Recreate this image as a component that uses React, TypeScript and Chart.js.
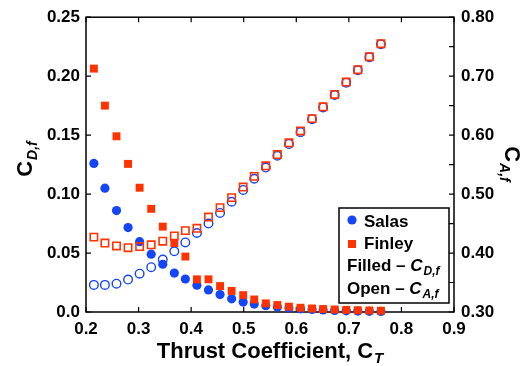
import React, { useEffect, useRef } from "react";
import { Chart, registerables } from "chart.js";

Chart.register(...registerables);

// Thrust coefficient (shared by both datasets)
const thrustCoef = [0.215, 0.236, 0.258, 0.280, 0.302, 0.324, 0.346, 0.368, 0.389, 0.411, 0.433, 0.455, 0.477, 0.499, 0.520, 0.542, 0.564, 0.586, 0.608, 0.630, 0.651, 0.673, 0.695, 0.717, 0.739, 0.761];

// Salas
const salasCD = [0.126, 0.105, 0.086, 0.0716, 0.0596, 0.049, 0.0405, 0.033, 0.028, 0.0227, 0.0187, 0.0148, 0.0112, 0.0084, 0.0067, 0.0053, 0.0042, 0.0034, 0.0027, 0.0021, 0.0017, 0.0013, 0.001, 0.0008, 0.0006, 0.0005];
const salasCA = [0.346, 0.346, 0.348, 0.355, 0.365, 0.376, 0.389, 0.403, 0.418, 0.434, 0.45, 0.468, 0.487, 0.507, 0.526, 0.545, 0.565, 0.585, 0.605, 0.627, 0.647, 0.668, 0.689, 0.71, 0.732, 0.754];

// Finley
const finleyCD = [0.2064, 0.175, 0.149, 0.1256, 0.1054, 0.0875, 0.0724, 0.0585, 0.047, 0.0277, 0.0277, 0.022, 0.0179, 0.0143, 0.0106, 0.0073, 0.0059, 0.0045, 0.0036, 0.003, 0.0025, 0.0021, 0.0018, 0.0015, 0.0013, 0.0011];
const finleyCA = [0.427, 0.417, 0.412, 0.409, 0.411, 0.414, 0.42, 0.429, 0.438, 0.442, 0.461, 0.477, 0.494, 0.512, 0.53, 0.548, 0.567, 0.587, 0.607, 0.628, 0.648, 0.669, 0.69, 0.711, 0.733, 0.755];

const BLUE = "#1446f7";
const RED = "#ff3300";
const FONT = '"Liberation Sans", Arial, sans-serif';

const pts = (ys: number[]) => thrustCoef.map((x, i) => ({ x, y: ys[i] }));

function drawSub(ctx: CanvasRenderingContext2D, x: number, y: number, main: string, mainFont: string, sub: string, subFont: string, off: number) {
  ctx.font = mainFont;
  ctx.fillText(main, x, y);
  const w1 = ctx.measureText(main).width;
  ctx.font = subFont;
  ctx.fillText(sub, x + w1 + 1, y + off);
  return w1 + 1 + ctx.measureText(sub).width;
}
function measureSub(ctx: CanvasRenderingContext2D, main: string, mainFont: string, sub: string, subFont: string) {
  ctx.font = mainFont;
  const w1 = ctx.measureText(main).width;
  ctx.font = subFont;
  return w1 + 1 + ctx.measureText(sub).width;
}

const framePlugin = {
  id: "frame",
  beforeDatasetsDraw(chart: any) {
    const { ctx, chartArea } = chart;
    const { left, right, top, bottom } = chartArea;
    const sx = chart.scales.x, sy = chart.scales.y, sy2 = chart.scales.y2;
    ctx.save();
    ctx.strokeStyle = "#000";
    ctx.lineWidth = 1.5;
    ctx.strokeRect(left, top, right - left, bottom - top);
    ctx.lineWidth = 1.2;
    ctx.beginPath();
    const L = 5;
    sx.ticks.forEach((t: any) => {
      const p = sx.getPixelForValue(t.value);
      ctx.moveTo(p, bottom); ctx.lineTo(p, bottom - L);
      ctx.moveTo(p, top); ctx.lineTo(p, top + L);
    });
    sy.ticks.forEach((t: any) => {
      const p = sy.getPixelForValue(t.value);
      ctx.moveTo(left, p); ctx.lineTo(left + L, p);
    });
    sy2.ticks.forEach((t: any) => {
      const p = sy2.getPixelForValue(t.value);
      ctx.moveTo(right, p); ctx.lineTo(right - L, p);
    });
    ctx.stroke();
    ctx.restore();
  },
  afterDraw(chart: any) {
    const { ctx, chartArea } = chart;
    const { left, right, top, bottom } = chartArea;
    ctx.save();
    ctx.fillStyle = "#000";
    ctx.textBaseline = "alphabetic";
    ctx.textAlign = "left";
    const titleFont = `bold 22px ${FONT}`;
    const subFontI = `italic bold 14px ${FONT}`;
    // X title
    const xMain = "Thrust Coefficient, C";
    const xw = measureSub(ctx, xMain, titleFont, "T", `italic bold 15px ${FONT}`);
    drawSub(ctx, (left + right) / 2 - xw / 2, 358, xMain, titleFont, "T", `italic bold 15px ${FONT}`, 5);
    // Left title
    const lw = measureSub(ctx, "C", titleFont, "D,f", subFontI);
    ctx.save();
    ctx.translate(32, 159);
    ctx.rotate(-Math.PI / 2);
    drawSub(ctx, -lw / 2, 0, "C", titleFont, "D,f", subFontI, 5);
    ctx.restore();
    // Right title
    const rw = measureSub(ctx, "C", titleFont, "A,f", subFontI);
    ctx.save();
    ctx.translate(505, 164);
    ctx.rotate(Math.PI / 2);
    drawSub(ctx, -rw / 2, 0, "C", titleFont, "A,f", subFontI, 5);
    ctx.restore();

    // Legend
    const bx = 339, by = 208, bw = 110, bh = 95;
    ctx.fillStyle = "#fff";
    ctx.fillRect(bx, by, bw, bh);
    ctx.strokeStyle = "#000";
    ctx.lineWidth = 1.5;
    ctx.strokeRect(bx, by, bw, bh);
    ctx.fillStyle = BLUE;
    ctx.beginPath();
    ctx.arc(352, 220, 4.6, 0, Math.PI * 2);
    ctx.fill();
    ctx.fillStyle = RED;
    ctx.fillRect(352 - 4, 244 - 4, 8, 8);
    ctx.fillStyle = "#000";
    const lf = `bold 17px ${FONT}`;
    ctx.font = lf;
    ctx.fillText("Salas", 364, 226.5);
    ctx.fillText("Finley", 364, 248.5);
    ctx.fillText("Filled \u2013 ", 347, 271);
    let w = ctx.measureText("Filled \u2013 ").width;
    drawSub(ctx, 347 + w, 271, "C", `italic bold 17px ${FONT}`, "D,f", `italic bold 12px ${FONT}`, 4);
    ctx.font = lf;
    ctx.fillText("Open \u2013 ", 347, 293.5);
    w = ctx.measureText("Open \u2013 ").width;
    drawSub(ctx, 347 + w, 293.5, "C", `italic bold 17px ${FONT}`, "A,f", `italic bold 12px ${FONT}`, 4);
    ctx.restore();
  },
};

export default function App() {
  const ref = useRef<HTMLCanvasElement>(null);
  useEffect(() => {
    if (!ref.current) return;
    const tickFont = { family: FONT, size: 17, weight: "bold" as const };
    const chart = new Chart(ref.current, {
      type: "scatter",
      data: {
        datasets: [
          { label: "Finley CD", data: pts(finleyCD), yAxisID: "y", pointStyle: "rect", pointRadius: 5.6, backgroundColor: RED, borderColor: RED, borderWidth: 0, order: 0, clip: false } as any,
          { label: "Finley CA", data: pts(finleyCA), yAxisID: "y2", pointStyle: "rect", pointRadius: 5.2, backgroundColor: "rgba(255,255,255,0)", borderColor: RED, borderWidth: 1.6, order: 0, clip: false } as any,
          { label: "Salas CD", data: pts(salasCD), yAxisID: "y", pointStyle: "circle", pointRadius: 4.6, backgroundColor: BLUE, borderColor: BLUE, borderWidth: 0, order: 1, clip: false } as any,
          { label: "Salas CA", data: pts(salasCA), yAxisID: "y2", pointStyle: "circle", pointRadius: 4.3, backgroundColor: "rgba(255,255,255,0)", borderColor: BLUE, borderWidth: 1.4, order: 1, clip: false } as any,
        ],
      },
      options: {
        animation: false,
        responsive: false,
        layout: { padding: { top: 14, left: 0, right: 0, bottom: 0 } },
        plugins: { legend: { display: false }, tooltip: { enabled: false } },
        scales: {
          x: {
            type: "linear", position: "bottom", min: 0.2, max: 0.9,
            grid: { display: false, drawTicks: false }, border: { display: false },
            ticks: { stepSize: 0.1, autoSkip: false, maxRotation: 0, padding: 7, color: "#000", font: tickFont, callback: (v: any) => Number(v).toFixed(1) },
            afterFit: (s: any) => { s.height = 54; },
          },
          y: {
            type: "linear", position: "left", min: 0, max: 0.25,
            grid: { display: false, drawTicks: false }, border: { display: false },
            ticks: { stepSize: 0.05, autoSkip: false, padding: 6, color: "#000", font: tickFont, callback: (v: any) => (Math.abs(v) < 1e-9 ? "0.0" : Number(v).toFixed(2)) },
            afterFit: (s: any) => { s.width = 86; },
          },
          y2: {
            type: "linear", position: "right", min: 0.3, max: 0.8,
            grid: { display: false, drawTicks: false }, border: { display: false },
            ticks: { stepSize: 0.05, autoSkip: false, padding: 7, color: "#000", font: tickFont, callback: (v: any) => (Math.round(v * 100) % 10 === 0 ? Number(v).toFixed(2) : "") },
            afterFit: (s: any) => { s.width = 77; },
          },
        },
      },
      plugins: [framePlugin],
    });
    return () => chart.destroy();
  }, []);
  return (
    <div style={{ position: "absolute", left: 0, top: 0, width: 531, height: 366, background: "#fff" }}>
      <canvas ref={ref} width={531} height={366} />
    </div>
  );
}
